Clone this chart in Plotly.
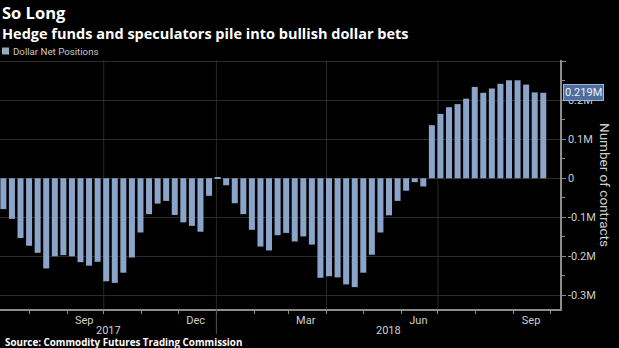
import pandas as pd
import plotly.graph_objects as go

# ---------------- data ----------------
first_week = "2017-07-11"   # CFTC report Tuesdays
n_weeks = 64
net_positions_m = [
    -0.079, -0.104, -0.153, -0.173, -0.191, -0.231, -0.200, -0.197, -0.200, -0.215,
    -0.224, -0.214, -0.264, -0.268, -0.242, -0.203, -0.139, -0.092, -0.065, -0.058,
    -0.094, -0.113, -0.122, -0.137, -0.045, 0.002, -0.018, -0.064, -0.092, -0.132,
    -0.175, -0.185, -0.146, -0.140, -0.162, -0.149, -0.170, -0.255, -0.251, -0.254,
    -0.272, -0.279, -0.242, -0.196, -0.139, -0.095, -0.058, -0.032, -0.010, -0.021,
    0.136, 0.165, 0.182, 0.190, 0.204, 0.234, 0.219, 0.230, 0.242, 0.251,
    0.251, 0.240, 0.220, 0.219,
]
weeks = pd.date_range(first_week, periods=n_weeks, freq="7D")

month_tick_vals = ["2017-09-15", "2017-12-15", "2018-03-15", "2018-06-15", "2018-09-15"]
month_tick_text = ["Sep", "Dec", "Mar", "Jun", "Sep"]
quarter_lines = ["2017-10-01", "2018-01-01", "2018-04-01", "2018-07-01"]
year_boundary = "2018-01-01"
y_tick_vals = [-0.3, -0.2, -0.1, 0, 0.1, 0.2, 0.3]
y_tick_text = ["-0.3M", "-0.2M", "-0.1M", "0", "0.1M", "0.2M", ""]
last_label = "0.219M"
last_value = 0.219

# ---------------- style ----------------
W, H = 619, 348
ML, MR, MT, MB = 0, 59, 60, 39
x_range = ["2017-07-08 06:00", "2018-10-08 16:00"]
y_range = [-0.335, 0.303]
bar_color = "#8ba5ca"
grid_color = "#2b2b2b"
axis_color = "#8c8c8c"
label_color = "#cfcfcf"
FONT = "Roboto"
TFONT = "Open Sans"

plot_w = W - ML - MR
plot_h = H - MT - MB
def py(pix):  # pixel y -> paper y
    return (H - MB - pix) / plot_h
def px(pix):  # pixel x -> paper x
    return (pix - ML) / plot_w

fig = go.Figure()
fig.add_trace(go.Bar(
    x=weeks, y=net_positions_m, marker=dict(color=bar_color, line=dict(width=0)),
    name="Dollar Net Positions", showlegend=False,
))

shapes = []
for d in quarter_lines:
    shapes.append(dict(type="line", xref="x", yref="paper", x0=d, x1=d, y0=0, y1=1,
                       line=dict(color=grid_color, width=1), layer="below"))
shapes.append(dict(type="line", xref="x", yref="paper", x0=year_boundary, x1=year_boundary,
                   y0=py(334), y1=0, line=dict(color="#555555", width=1)))
# legend swatch
shapes.append(dict(type="rect", xref="paper", yref="paper", x0=px(2), x1=px(9),
                   y0=py(54.5), y1=py(47.5), fillcolor="#9aa8bc", line=dict(width=0)))

x0 = pd.Timestamp(x_range[0]); x1 = pd.Timestamp(x_range[1]); yb = pd.Timestamp(year_boundary)
year_2017_x = x0 + (yb - x0) / 2
year_2018_x = yb + (x1 - yb) / 2

annotations = [
    dict(text="<b>So Long</b>", xref="paper", yref="paper", x=0, y=py(12), xanchor="left",
         yanchor="middle", showarrow=False, font=dict(family=TFONT, size=16.5, color="white")),
    dict(text="<b>Hedge funds and speculators pile into bullish dollar bets</b>", xref="paper",
         yref="paper", x=0, y=py(33), xanchor="left", yanchor="middle", showarrow=False,
         font=dict(family=TFONT, size=14.5, color="white")),
    dict(text="Dollar Net Positions", xref="paper", yref="paper", x=px(11), y=py(51),
         xanchor="left", yanchor="middle", showarrow=False,
         font=dict(family=FONT, size=9.7, color="#c8c8c8")),
    dict(text="<b>Source: Commodity Futures Trading Commission</b>", xref="paper", yref="paper",
         x=px(3), y=py(342.5), xanchor="left", yanchor="middle", showarrow=False,
         font=dict(family=TFONT, size=9.8, color="white")),
    dict(text="2017", xref="x", yref="paper", x=year_2017_x, y=py(330.5), xanchor="center",
         yanchor="middle", showarrow=False, font=dict(family=FONT, size=11, color=label_color)),
    dict(text="2018", xref="x", yref="paper", x=year_2018_x, y=py(330.5), xanchor="center",
         yanchor="middle", showarrow=False, font=dict(family=FONT, size=11, color=label_color)),
    dict(text="Number of contracts", xref="paper", yref="paper", x=px(605),
         y=py(185), xanchor="center", yanchor="middle", textangle=90, showarrow=False,
         font=dict(family=FONT, size=13.5, color=label_color)),
    dict(text=last_label, xref="paper", yref="y", x=px(563), y=last_value,
         xanchor="left", yanchor="middle", showarrow=False, bgcolor="#4f6e9c",
         bordercolor="#9ab4d8", borderwidth=1, borderpad=1,
         font=dict(family=FONT, size=11, color="#eaf1ff")),
]

fig.update_layout(
    width=W, height=H, autosize=False,
    margin=dict(l=ML, r=MR, t=MT, b=MB, pad=0),
    paper_bgcolor="black", plot_bgcolor="black",
    bargap=0.3, showlegend=False,
    shapes=shapes, annotations=annotations,
    font=dict(family=FONT, color=label_color),
    xaxis=dict(
        type="date", range=x_range, tickmode="array", tickvals=month_tick_vals,
        ticktext=month_tick_text, ticks="", showgrid=False, zeroline=False,
        showline=True, linecolor=axis_color, linewidth=1.5,
        tickfont=dict(family=FONT, size=11, color=label_color),
        minor=dict(tick0="2017-01-01", dtick="M1", ticks="outside", ticklen=3,
                   tickcolor=axis_color, showgrid=False),
    ),
    yaxis=dict(
        side="right", range=y_range, tickmode="array", tickvals=y_tick_vals,
        ticktext=y_tick_text, ticks="outside", ticklen=4, tickcolor=axis_color,
        showgrid=True, gridcolor=grid_color, gridwidth=1, zeroline=False,
        showline=True, linecolor=axis_color, linewidth=1.5,
        tickfont=dict(family=FONT, size=11, color=label_color),
        minor=dict(dtick=0.05, tick0=0, ticks="outside", ticklen=3, tickcolor=axis_color,
                   showgrid=False),
    ),
)

fig.write_html("out.html")
